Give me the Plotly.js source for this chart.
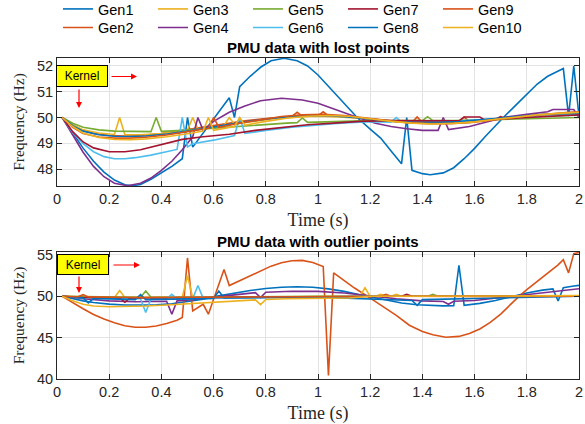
<!DOCTYPE html>
<html>
<head>
<meta charset="utf-8">
<script src="https://cdn.plot.ly/plotly-3.0.1.min.js"></script>
<style>html,body{margin:0;padding:0;background:#fff;}#chart{width:585px;height:424px;}</style>
</head>
<body>
<div id="chart"></div>
<script>
// ---------- Data: PMU data with lost points (top) ----------
var lost_t1 = [0.02,0.06,0.10,0.14,0.18,0.22,0.26,0.29,0.32,0.36,0.40,0.44,0.48,0.50,0.52,0.56,0.60,0.64,0.66,0.68,0.70,0.74,0.78,0.82,0.87,0.92,0.96,1.00,1.04,1.08,1.12,1.15,1.20,1.24,1.28,1.32,1.34,1.36,1.40,1.43,1.48,1.52,1.56,1.60,1.64,1.68,1.71,1.76,1.80,1.84,1.88,1.94,1.96,1.98,2.00];
var lost_f1 = [50.0,49.39,48.81,48.30,47.88,47.57,47.39,47.35,47.40,47.60,47.85,48.10,48.40,50.0,48.85,49.40,49.95,50.50,50.77,50.0,51.20,51.60,51.95,52.20,52.30,52.20,52.00,51.65,51.20,50.75,50.30,50.0,49.55,49.20,48.70,48.20,50.0,47.95,47.82,47.78,47.85,48.05,48.40,48.80,49.25,49.70,50.0,50.50,50.90,51.30,51.60,51.90,50.05,52.00,50.05];

var lost_t2 = [0.02,0.06,0.10,0.14,0.20,0.26,0.32,0.40,0.48,0.56,0.64,0.72,0.80,0.88,0.90,0.92,0.94,1.00,1.02,1.04,1.08,1.16,1.24,1.32,1.36,1.38,1.40,1.48,1.54,1.56,1.58,1.64,1.72,1.80,1.88,1.96,2.00];
var lost_f2 = [50.0,49.70,49.50,49.38,49.30,49.28,49.30,49.38,49.50,49.62,49.75,49.87,49.96,50.03,50.04,50.20,50.05,50.07,50.22,50.06,50.05,49.98,49.90,49.83,49.81,50.02,49.80,49.80,49.83,50.02,49.84,49.90,49.98,50.05,50.10,50.14,50.15];

var lost_t3 = [0.02,0.06,0.10,0.16,0.22,0.24,0.26,0.32,0.40,0.48,0.50,0.52,0.54,0.60,0.64,0.66,0.68,0.76,0.84,0.92,1.00,1.08,1.16,1.24,1.32,1.40,1.48,1.56,1.64,1.72,1.80,1.88,1.96,2.00];
var lost_f3 = [50.0,49.72,49.52,49.40,49.34,50.0,49.33,49.33,49.38,49.48,49.50,50.0,49.55,49.62,49.70,50.0,49.74,49.86,49.96,50.02,50.05,50.02,49.97,49.88,49.82,49.78,49.78,49.82,49.90,49.98,50.05,50.10,50.12,50.13];

var lost_t4 = [0.02,0.06,0.10,0.14,0.18,0.22,0.27,0.32,0.36,0.40,0.44,0.48,0.52,0.54,0.56,0.60,0.66,0.72,0.78,0.86,0.94,1.00,1.06,1.12,1.16,1.22,1.28,1.34,1.40,1.46,1.48,1.50,1.58,1.66,1.72,1.80,1.88,1.90,1.98,2.00];
var lost_f4 = [50.0,49.30,48.65,48.10,47.70,47.45,47.35,47.45,47.65,47.95,48.30,48.75,49.25,50.0,49.50,49.85,50.20,50.45,50.65,50.75,50.68,50.55,50.35,50.12,49.97,49.78,49.65,49.56,49.50,49.50,50.0,49.53,49.65,49.85,50.02,50.12,50.22,50.31,50.31,50.0];

var lost_t5 = [0.02,0.06,0.10,0.16,0.22,0.30,0.36,0.38,0.40,0.48,0.56,0.64,0.72,0.80,0.88,0.92,0.94,0.96,1.04,1.12,1.20,1.28,1.36,1.40,1.42,1.44,1.52,1.60,1.70,1.80,1.90,2.00];
var lost_f5 = [50.0,49.78,49.62,49.52,49.47,49.45,49.45,50.0,49.46,49.50,49.56,49.62,49.68,49.73,49.78,49.80,49.98,49.81,49.84,49.87,49.88,49.88,49.88,49.88,50.03,49.88,49.88,49.90,49.93,49.96,49.98,50.0];

var lost_t6 = [0.02,0.06,0.10,0.14,0.18,0.22,0.26,0.30,0.36,0.42,0.46,0.48,0.50,0.52,0.60,0.68,0.70,0.72,0.80,0.90,1.00,1.06,1.12,1.18,1.24,1.28,1.30,1.32,1.40,1.50,1.60,1.70,1.80,1.90,2.00];
var lost_f6 = [50.0,49.42,48.98,48.67,48.48,48.40,48.40,48.44,48.54,48.67,48.76,50.0,48.86,48.98,49.12,49.30,50.0,49.38,49.50,49.62,49.72,49.76,49.80,49.83,49.83,49.82,50.0,49.82,49.83,49.85,49.90,49.96,50.02,50.07,50.10];

var lost_t7 = [0.02,0.06,0.10,0.14,0.20,0.26,0.32,0.40,0.48,0.56,0.66,0.76,0.86,0.96,1.06,1.16,1.26,1.36,1.46,1.54,1.56,1.62,1.64,1.68,1.70,1.72,1.80,1.90,2.00];
var lost_f7 = [50.0,49.45,49.05,48.82,48.67,48.67,48.75,48.95,49.15,49.25,49.35,49.50,49.62,49.72,49.78,49.85,49.88,49.88,49.87,49.87,50.02,50.02,49.90,49.93,50.03,49.95,50.0,50.05,50.10];

var lost_t8 = [0.02,0.06,0.10,0.16,0.22,0.28,0.34,0.42,0.50,0.58,0.66,0.74,0.82,0.90,0.98,1.06,1.14,1.22,1.30,1.38,1.46,1.54,1.62,1.70,1.78,1.86,1.94,2.00];
var lost_f8 = [50.0,49.68,49.47,49.33,49.27,49.26,49.28,49.36,49.47,49.60,49.74,49.86,49.96,50.04,50.08,50.06,50.0,49.92,49.84,49.80,49.80,49.84,49.90,49.98,50.06,50.12,50.15,50.17];

var lost_t9 = [0.02,0.06,0.10,0.16,0.22,0.28,0.34,0.42,0.50,0.58,0.60,0.62,0.70,0.78,0.86,0.94,1.02,1.10,1.18,1.26,1.34,1.42,1.50,1.58,1.66,1.74,1.82,1.90,1.96,2.00];
var lost_f9 = [50.0,49.62,49.38,49.24,49.20,49.20,49.23,49.32,49.45,49.58,50.0,49.62,49.78,49.92,50.04,50.10,50.12,50.08,49.98,49.88,49.80,49.76,49.76,49.80,49.88,49.98,50.08,50.16,50.20,50.22];

var lost_t10 = [0.02,0.06,0.10,0.16,0.22,0.28,0.34,0.42,0.50,0.56,0.58,0.60,0.68,0.70,0.72,0.80,0.88,0.96,1.04,1.12,1.20,1.28,1.36,1.44,1.52,1.60,1.68,1.76,1.84,1.92,2.00];
var lost_f10 = [50.0,49.65,49.40,49.22,49.15,49.14,49.17,49.25,49.37,49.47,50.0,49.50,49.65,50.0,49.70,49.85,49.97,50.05,50.08,50.05,49.95,49.85,49.78,49.75,49.77,49.83,49.93,50.02,50.10,50.16,50.20];

// ---------- Data: PMU data with outlier points (bottom) ----------
var out_t1 = [0.02,0.06,0.10,0.14,0.20,0.26,0.32,0.38,0.44,0.50,0.56,0.62,0.68,0.74,0.80,0.86,0.92,0.98,1.04,1.10,1.16,1.20,1.26,1.32,1.38,1.44,1.48,1.52,1.54,1.56,1.62,1.68,1.74,1.80,1.86,1.90,1.92,1.94,1.98,2.00];
var out_f1 = [50.0,49.70,49.45,49.25,49.05,48.95,48.92,48.97,49.10,49.35,49.65,50.05,50.40,50.70,50.95,51.10,51.15,51.10,50.90,50.60,50.20,49.95,49.55,49.20,48.98,48.87,48.84,48.86,53.76,48.92,49.15,49.50,49.95,50.40,50.75,50.90,49.44,51.04,51.25,51.32];

var out_t2 = [0.02,0.06,0.10,0.14,0.18,0.22,0.26,0.30,0.34,0.38,0.42,0.46,0.48,0.50,0.52,0.56,0.58,0.60,0.64,0.66,0.70,0.74,0.78,0.82,0.86,0.90,0.94,0.98,1.02,1.04,1.06,1.10,1.14,1.19,1.24,1.30,1.35,1.40,1.44,1.49,1.54,1.58,1.62,1.66,1.70,1.74,1.77,1.80,1.84,1.88,1.92,1.94,1.96,1.98,2.00];
var out_f2 = [50.0,49.20,48.50,47.80,47.25,46.80,46.45,46.26,46.26,46.42,46.70,47.10,47.44,54.64,48.24,49.04,47.84,49.64,53.24,51.30,51.90,52.55,53.15,53.65,54.05,54.30,54.35,54.10,53.60,40.44,52.84,51.90,51.00,50.0,49.00,47.70,46.50,45.75,45.35,45.05,45.15,45.50,46.05,46.85,47.85,49.10,50.0,50.80,51.80,52.75,53.80,54.44,52.84,55.16,55.30];

var out_t3 = [0.02,0.10,0.22,0.24,0.26,0.36,0.48,0.50,0.52,0.70,1.00,1.16,1.18,1.20,1.22,1.24,1.26,1.28,1.30,1.32,1.60,2.00];
var out_f3 = [50.0,49.90,49.85,50.70,49.85,49.85,49.90,52.50,49.80,49.90,50.0,50.0,51.04,50.0,50.0,50.25,50.0,50.0,50.25,50.0,50.0,50.0];

var out_t4 = [0.02,0.10,0.20,0.30,0.42,0.44,0.46,0.52,0.60,0.70,0.76,0.78,0.80,0.90,1.00,1.10,1.20,1.30,1.40,1.48,1.50,1.52,1.60,1.70,1.80,1.90,2.00];
var out_f4 = [50.0,49.70,49.45,49.35,49.40,47.84,49.45,49.60,49.90,50.25,50.45,49.84,50.50,50.62,50.60,50.40,50.05,49.70,49.45,49.38,49.04,49.40,49.50,49.85,50.25,50.60,50.92];

var out_t5 = [0.02,0.20,0.32,0.34,0.36,0.60,1.00,1.42,1.44,1.46,2.00];
var out_f5 = [50.0,49.90,49.88,50.64,49.88,49.90,50.0,50.0,50.25,50.0,50.0];

var out_t6 = [0.02,0.10,0.20,0.32,0.34,0.36,0.42,0.44,0.46,0.52,0.54,0.56,0.80,1.20,1.60,2.00];
var out_f6 = [50.0,49.80,49.75,49.70,48.05,49.70,49.70,50.24,49.70,49.72,51.30,49.75,49.85,50.0,50.0,50.0];

var out_t7 = [0.02,0.10,0.24,0.26,0.28,0.60,1.00,1.32,1.34,1.36,2.00];
var out_f7 = [50.0,49.85,49.80,49.30,49.80,49.85,49.95,50.0,50.25,50.0,50.05];

var out_t8 = [0.02,0.10,0.12,0.14,0.30,0.32,0.34,0.60,0.62,0.64,1.00,1.36,1.38,1.40,2.00];
var out_f8 = [50.0,49.80,49.20,49.75,49.60,50.20,49.60,49.75,50.64,49.80,49.90,49.50,48.92,49.60,50.0];

var out_t9 = [0.02,0.06,0.08,0.10,0.12,0.30,0.60,0.90,1.20,1.24,1.26,1.28,1.60,2.00];
var out_f9 = [50.0,49.96,49.95,50.20,49.93,49.85,49.90,50.02,50.05,50.0,50.25,50.0,49.97,50.0];

var out_t10 = [0.02,0.06,0.10,0.14,0.20,0.26,0.34,0.42,0.50,0.58,0.66,0.72,0.76,0.78,0.80,0.88,0.96,1.04,1.12,1.20,1.30,1.50,1.80,2.00];
var out_f10 = [50.0,49.45,49.05,48.82,48.74,48.75,48.82,48.95,49.10,49.25,49.40,49.50,49.57,49.00,49.62,49.70,49.75,49.78,49.80,50.0,50.0,50.0,50.05,50.10];

var genNames = ['Gen1','Gen2','Gen3','Gen4','Gen5','Gen6','Gen7','Gen8','Gen9','Gen10'];
var genColors = ['#0072BD','#D95319','#EDB120','#7E2F8E','#77AC30','#4DBEEE','#A2142F','#0072BD','#D95319','#EDB120'];
var lostT = [lost_t1,lost_t2,lost_t3,lost_t4,lost_t5,lost_t6,lost_t7,lost_t8,lost_t9,lost_t10];
var lostF = [lost_f1,lost_f2,lost_f3,lost_f4,lost_f5,lost_f6,lost_f7,lost_f8,lost_f9,lost_f10];
var outT = [out_t1,out_t2,out_t3,out_t4,out_t5,out_t6,out_t7,out_t8,out_t9,out_t10];
var outF = [out_f1,out_f2,out_f3,out_f4,out_f5,out_f6,out_f7,out_f8,out_f9,out_f10];

var xTicks = [0,0.2,0.4,0.6,0.8,1,1.2,1.4,1.6,1.8,2];
var xTickText = ['0','0.2','0.4','0.6','0.8','1','1.2','1.4','1.6','1.8','2'];

var traces = [];
for (var i = 0; i < 10; i++) {
  traces.push({
    x: lostT[i], y: lostF[i], xaxis: 'x', yaxis: 'y', type: 'scatter', mode: 'lines',
    name: genNames[i], line: {color: genColors[i], width: 1.6},
    legend: (i % 2 === 0) ? 'legend' : 'legend2', showlegend: true
  });
}
for (var j = 0; j < 10; j++) {
  traces.push({
    x: outT[j], y: outF[j], xaxis: 'x2', yaxis: 'y2', type: 'scatter', mode: 'lines',
    name: genNames[j], line: {color: genColors[j], width: 1.6}, showlegend: false
  });
}

var W = 585, H = 424;
function px(x) { return x / W; }
function py(y) { return 1 - y / H; }

var tickFont = {family: 'Liberation Sans, Arial, sans-serif', size: 14.5, color: '#262626'};
var serif = 'Liberation Serif, Times New Roman, serif';
function xAxis(anchor, dom) {
  return {
    domain: dom, anchor: anchor, range: [0, 2], tickvals: xTicks, ticktext: xTickText,
    showline: true, linecolor: '#262626', linewidth: 1, mirror: 'ticks',
    ticks: 'inside', ticklen: 5, tickcolor: '#262626', tickfont: tickFont,
    showgrid: true, gridcolor: '#e3e3e3', gridwidth: 1, zeroline: false,
    title: {text: 'Time (s)', font: {family: serif, size: 18, color: '#262626'}, standoff: 6}
  };
}
function yAxis(anchor, dom, range, dtick) {
  return {
    domain: dom, anchor: anchor, range: range, dtick: dtick, tick0: 0,
    showline: true, linecolor: '#262626', linewidth: 1, mirror: 'ticks',
    ticks: 'inside', ticklen: 5, tickcolor: '#262626', tickfont: tickFont,
    showgrid: true, gridcolor: '#e3e3e3', gridwidth: 1, zeroline: false,
    title: {text: 'Frequency (Hz)', font: {family: serif, size: 15.5, color: '#262626'}, standoff: 8}
  };
}

var xDom = [px(57), px(579)];
var legendFont = {family: 'Liberation Sans, Arial, sans-serif', size: 14.5, color: '#000'};
var layout = {
  width: W, height: H,
  margin: {l: 0, r: 0, t: 0, b: 0, autoexpand: false},
  paper_bgcolor: '#ffffff', plot_bgcolor: '#ffffff',
  xaxis: xAxis('y', xDom),
  yaxis: yAxis('x', [py(186), py(58)], [47.34, 52.31], 1),
  xaxis2: xAxis('y2', xDom),
  yaxis2: yAxis('x2', [py(379), py(252)], [40, 55.36], 5),
  legend: {orientation: 'h', x: px(58), y: py(9), xanchor: 'left', yanchor: 'middle',
    font: legendFont, entrywidth: 50, entrywidthmode: 'pixels', bgcolor: 'rgba(0,0,0,0)', borderwidth: 0},
  legend2: {orientation: 'h', x: px(58), y: py(27.5), xanchor: 'left', yanchor: 'middle',
    font: legendFont, entrywidth: 50, entrywidthmode: 'pixels', bgcolor: 'rgba(0,0,0,0)', borderwidth: 0},
  annotations: [
    {text: 'PMU data with lost points', xref: 'paper', yref: 'paper', x: px(318), y: py(48),
     xanchor: 'center', yanchor: 'middle', showarrow: false,
     font: {family: 'Liberation Sans, Arial, sans-serif', size: 15, color: '#000', weight: 'bold'}},
    {text: 'PMU data with outlier points', xref: 'paper', yref: 'paper', x: px(318), y: py(241),
     xanchor: 'center', yanchor: 'middle', showarrow: false,
     font: {family: 'Liberation Sans, Arial, sans-serif', size: 15, color: '#000', weight: 'bold'}},
    {text: 'Kernel', xref: 'paper', yref: 'paper', x: px(82.3), y: py(76), xanchor: 'center', yanchor: 'middle',
     showarrow: false, bgcolor: '#ffff00', bordercolor: '#000', borderwidth: 1, borderpad: 3, width: 44, height: 14,
     font: {family: 'Liberation Sans, Arial, sans-serif', size: 12, color: '#000'}},
    {text: '', xref: 'paper', yref: 'paper', x: px(137), y: py(76.5), ax: -27, ay: 0, showarrow: true,
     arrowhead: 2, arrowsize: 1, arrowwidth: 1.2, arrowcolor: '#ff0000'},
    {text: '', xref: 'paper', yref: 'paper', x: px(79), y: py(108), ax: 0, ay: -20, showarrow: true,
     arrowhead: 2, arrowsize: 1, arrowwidth: 1.2, arrowcolor: '#ff0000'},
    {text: 'Kernel', xref: 'paper', yref: 'paper', x: px(83.3), y: py(264), xanchor: 'center', yanchor: 'middle',
     showarrow: false, bgcolor: '#ffff00', bordercolor: '#000', borderwidth: 1, borderpad: 3, width: 44, height: 13,
     font: {family: 'Liberation Sans, Arial, sans-serif', size: 12, color: '#000'}},
    {text: '', xref: 'paper', yref: 'paper', x: px(140), y: py(265), ax: -28, ay: 0, showarrow: true,
     arrowhead: 2, arrowsize: 1, arrowwidth: 1.2, arrowcolor: '#ff0000'},
    {text: '', xref: 'paper', yref: 'paper', x: px(79), y: py(293), ax: 0, ay: -18, showarrow: true,
     arrowhead: 2, arrowsize: 1, arrowwidth: 1.2, arrowcolor: '#ff0000'}
  ]
};

Plotly.newPlot('chart', traces, layout, {displayModeBar: false, staticPlot: true});
</script>
</body>
</html>
